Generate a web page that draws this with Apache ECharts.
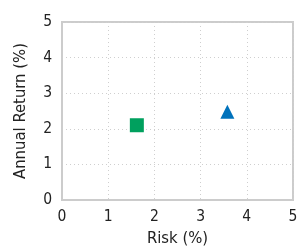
<!DOCTYPE html>
<html>
<head>
<meta charset="utf-8">
<script src="https://cdn.jsdelivr.net/npm/echarts@6/dist/echarts.min.js"></script>
<style>
    html, body { margin: 0; padding: 0; background: #fff; }
    #chart { width: 297px; height: 247px; }
</style>
</head>
<body>
<div id="chart"></div>
<script>
// risk / return points
const seriesNames = ['Fund A', 'Fund B'];
const riskValues = [1.62, 3.58];
const returnValues = [2.1, 2.48];
const symbols = ['rect', 'triangle'];
const colors = ['#00A05E', '#0072BC'];
const tickLabels = ['0', '1', '2', '3', '4', '5'];

const font = '"DejaVu Sans Condensed", "Liberation Sans Narrow", sans-serif';
const series = [];
for (var i = 0; i < seriesNames.length; i++) {
    series.push({
        name: seriesNames[i],
        type: 'scatter',
        symbol: symbols[i],
        symbolSize: 14,
        itemStyle: { color: colors[i], opacity: 1 },
        data: [[riskValues[i], returnValues[i]]]
    });
}

const axisCommon = {
    type: 'value',
    min: 0,
    max: 5,
    interval: 1,
    nameLocation: 'middle',
    nameTextStyle: { color: '#222', fontSize: 16.5, fontFamily: font },
    axisLine: { show: true, lineStyle: { color: '#cccccc', width: 2 } },
    axisTick: { show: false },
    axisLabel: {
        color: '#222',
        fontSize: 15.5,
        fontFamily: font,
        formatter: (v) => tickLabels[Math.round(v)]
    },
    splitLine: { show: true, lineStyle: { color: '#cfcfcf', type: [1, 3], width: 1 } }
};

const chart = echarts.init(document.getElementById('chart'));
chart.setOption({
    animation: false,
    grid: {
        left: 62, top: 22, right: 4, bottom: 47,
        outerBoundsMode: 'none',
        show: true,
        borderColor: '#cccccc',
        borderWidth: 2
    },
    xAxis: Object.assign({}, axisCommon, {
        name: 'Risk (%)',
        nameGap: 30,
        axisLabel: Object.assign({}, axisCommon.axisLabel, { margin: 9 })
    }),
    yAxis: Object.assign({}, axisCommon, {
        name: 'Annual Return (%)',
        nameGap: 33,
        axisLabel: Object.assign({}, axisCommon.axisLabel, { margin: 10 })
    }),
    series: series
});
</script>
</body>
</html>
